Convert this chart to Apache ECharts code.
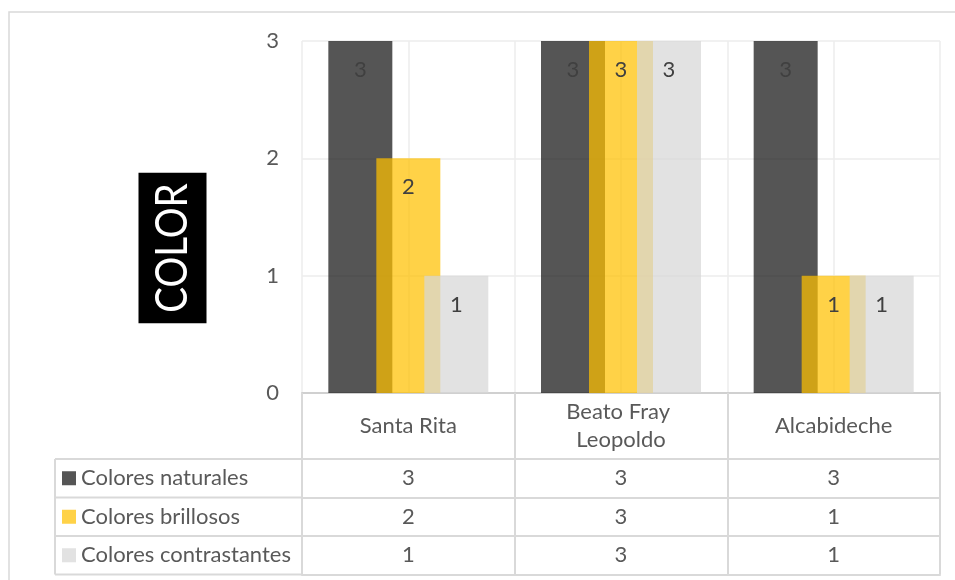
<!DOCTYPE html>
<html>
<head>
<meta charset="utf-8">
<script src="https://cdn.jsdelivr.net/npm/echarts@6/dist/echarts.min.js"></script>
<style>
  html, body { margin: 0; padding: 0; background: #fff; }
  #chart { width: 955px; height: 580px; }
</style>
</head>
<body>
<div id="chart"></div>
<script>
// Sites and colour-type counts
const categories = ['Santa Rita', 'Beato Fray Leopoldo', 'Alcabideche'];
const seriesNames = ['Colores naturales', 'Colores brillosos', 'Colores contrastantes'];
const naturales = [3, 3, 3];
const brillosos = [2, 3, 1];
const contrastantes = [1, 3, 1];
const yMin = 0, yMax = 3, yStep = 1;
const axisTitle = 'COLOR';

// Layout
const FONT = 'Lato, "Open Sans", sans-serif';
const FS = 22;
const TEXT = '#595959';
const LINE = '#D9D9D9';
const GRIDLINE = '#EDEDED';
const GRID = { left: 302, right: 15, top: 41, bottom: 187 };
const HEADER_H = 66;
const ROW_H = 38.5;
const TABLE_LEFT = 55;
const W = 955, H = 580;

const seriesValues = [naturales, brillosos, contrastantes];
const seriesColors = ['rgba(20,20,20,0.72)', 'rgba(255,192,0,0.72)', 'rgba(215,215,215,0.72)'];

const chart = echarts.init(document.getElementById('chart'), null, { renderer: 'canvas' });

const gridBottomY = H - GRID.bottom;

// Table rows below the plot, one axis per data row
const rowAxes = seriesValues.map((vals, k) => ({
  type: 'category',
  gridIndex: 0,
  position: 'bottom',
  offset: HEADER_H + k * ROW_H,
  data: categories,
  axisLine: { show: true, lineStyle: { color: LINE, width: 2 } },
  axisTick: { show: true, interval: 0, length: ROW_H, lineStyle: { color: LINE, width: 2 } },
  axisLabel: {
    show: true, interval: 0, margin: ROW_H / 2, verticalAlign: 'middle',
    fontSize: FS, color: TEXT, fontFamily: FONT,
    formatter: (v, i) => String(vals[i])
  },
  splitLine: { show: false }
}));

const option = {
  animation: false,
  backgroundColor: '#fff',
  textStyle: { fontFamily: FONT },
  grid: { left: GRID.left, right: GRID.right, top: GRID.top, bottom: GRID.bottom, containLabel: false },
  legend: {
    orient: 'vertical',
    left: 62,
    top: gridBottomY + HEADER_H + ROW_H / 2 - FS / 2,
    itemWidth: 14, itemHeight: 14, itemGap: ROW_H - FS,
    padding: 0,
    selectedMode: false,
    icon: 'rect',
    data: seriesNames,
    textStyle: { fontSize: FS, color: TEXT, fontFamily: FONT }
  },
  xAxis: [
    {
      type: 'category',
      gridIndex: 0,
      position: 'bottom',
      data: categories,
      axisLine: { show: true, lineStyle: { color: '#D0D0D0', width: 2 } },
      axisTick: { show: true, interval: 0, length: HEADER_H, lineStyle: { color: LINE, width: 2 } },
      axisLabel: {
        interval: 0, hideOverlap: false,
        margin: HEADER_H / 2, verticalAlign: 'middle', lineHeight: 28,
        fontSize: FS, color: TEXT, fontFamily: FONT,
        width: 130, overflow: 'break', align: 'center'
      },
      splitLine: { show: false }
    },
    ...rowAxes,
    {
      // closing line of the table
      type: 'category',
      gridIndex: 0,
      position: 'bottom',
      offset: HEADER_H + 3 * ROW_H,
      data: categories,
      axisLine: { show: true, lineStyle: { color: LINE, width: 2 } },
      axisTick: { show: false },
      axisLabel: { show: false },
      splitLine: { show: false }
    },
    {
      // vertical gridlines at category edges and centres
      type: 'value',
      gridIndex: 0,
      position: 'top',
      min: 0, max: categories.length * 2, interval: 1,
      axisLine: { show: false },
      axisTick: { show: false },
      axisLabel: { show: false },
      splitLine: { show: true, lineStyle: { color: GRIDLINE, width: 1.5 } }
    }
  ],
  yAxis: {
    type: 'value',
    min: yMin, max: yMax, interval: yStep,
    axisLine: { show: false },
    axisTick: { show: false },
    axisLabel: { fontSize: FS, color: TEXT, fontFamily: FONT, margin: 23 },
    splitLine: { show: true, lineStyle: { color: GRIDLINE, width: 1.5 } }
  },
  series: seriesNames.map((name, k) => ({
    name,
    type: 'bar',
    xAxisIndex: 0,
    yAxisIndex: 0,
    data: seriesValues[k],
    barWidth: 64,
    barGap: '-25%',
    itemStyle: { color: seriesColors[k] },
    label: {
      show: true, position: 'insideTop', distance: 18,
      fontSize: FS, color: '#404040', fontFamily: FONT
    }
  })),
  graphic: [
    {
      type: 'rect', silent: true, z: -1,
      shape: { x: 9, y: 12, width: W + 20, height: H + 20 },
      style: { fill: null, stroke: LINE, lineWidth: 1.5 }
    },
    // legend column borders
    ...[0, 1, 2, 3].map(i => ({
      type: 'line', silent: true,
      shape: {
        x1: TABLE_LEFT, y1: gridBottomY + HEADER_H + i * ROW_H,
        x2: GRID.left, y2: gridBottomY + HEADER_H + i * ROW_H
      },
      style: { stroke: LINE, lineWidth: 2 }
    })),
    {
      type: 'line', silent: true,
      shape: {
        x1: TABLE_LEFT, y1: gridBottomY + HEADER_H,
        x2: TABLE_LEFT, y2: gridBottomY + HEADER_H + 3 * ROW_H
      },
      style: { stroke: LINE, lineWidth: 2 }
    },
    {
      type: 'text', silent: true,
      x: 172.5, y: 248, rotation: Math.PI / 2, scaleX: 0.875,
      style: {
        text: axisTitle,
        fill: '#fff',
        font: '44px ' + FONT,
        align: 'center', verticalAlign: 'middle',
        backgroundColor: '#000',
        padding: [13, 12, 11, 12]
      }
    }
  ]
};

chart.setOption(option);
</script>
</body>
</html>
